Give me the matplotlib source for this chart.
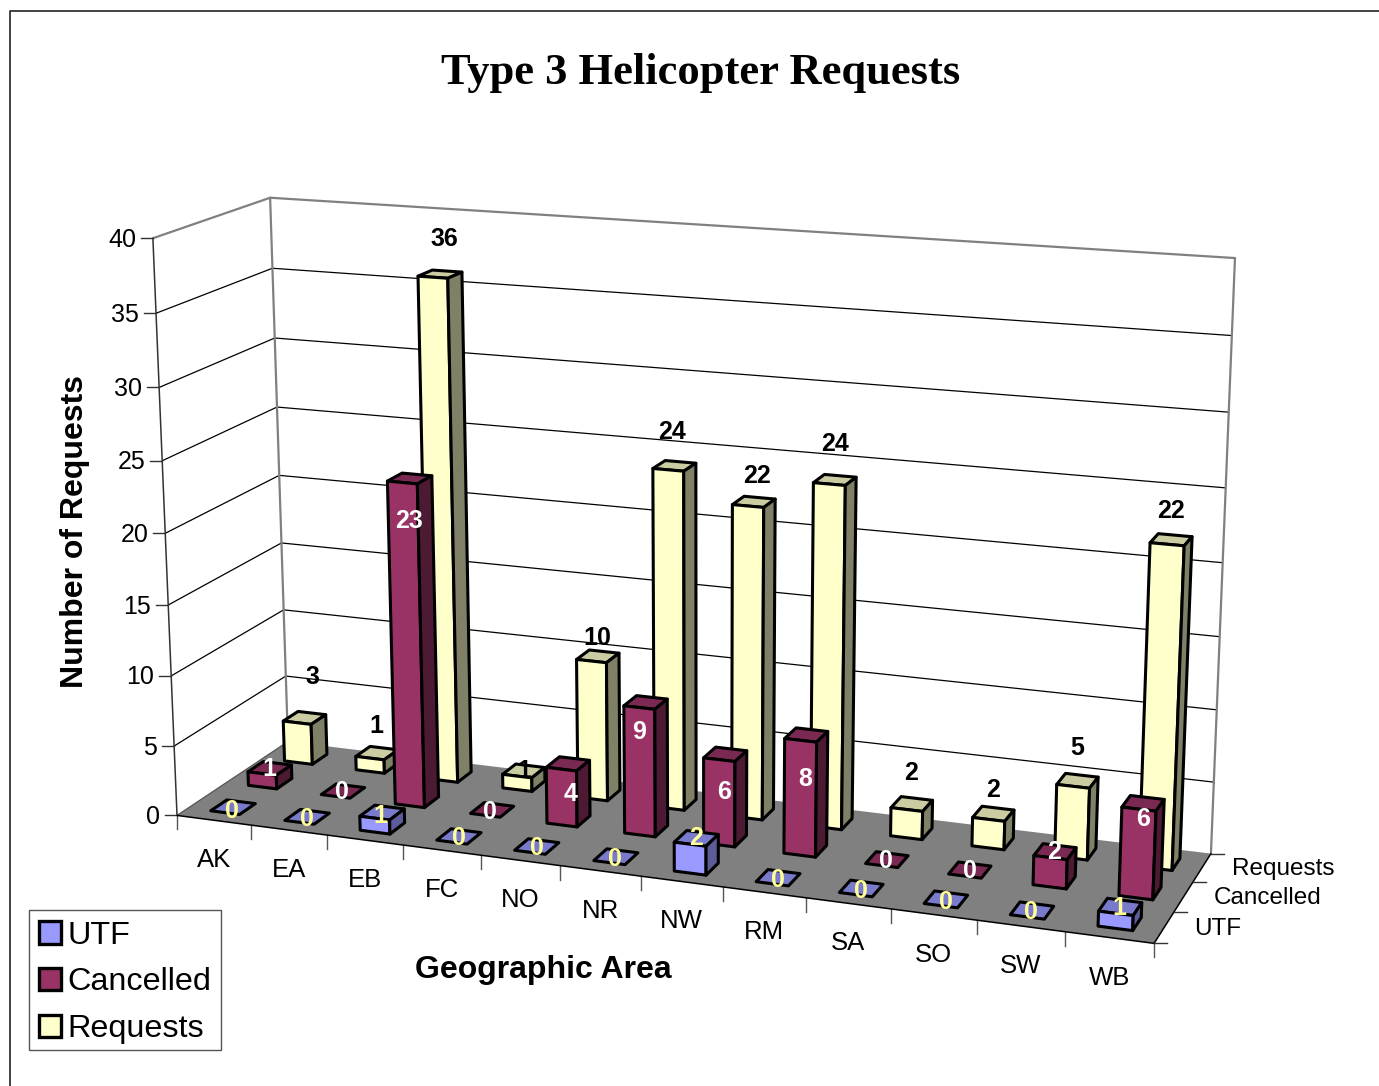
import numpy as np
import matplotlib
matplotlib.use('Agg')
import matplotlib.pyplot as plt
from matplotlib.patches import Polygon, Patch, Rectangle

plt.rcParams['font.family'] = ['Liberation Sans', 'DejaVu Sans']

# data
areas = ['AK', 'EA', 'EB', 'FC', 'NO', 'NR', 'NW', 'RM', 'SA', 'SO', 'SW', 'WB']
series_names = ['UTF', 'Cancelled', 'Requests']
utf = [0, 0, 1, 0, 0, 0, 2, 0, 0, 0, 0, 1]
cancelled = [1, 0, 23, 0, 4, 9, 6, 8, 0, 0, 2, 6]
requests = [3, 1, 36, 1, 10, 24, 22, 24, 2, 2, 5, 22]
value_ticks = [0, 5, 10, 15, 20, 25, 30, 35, 40]

# face colours front, top, side
colors = {'UTF': ('#9999FF', '#7A7ACC', '#5C5C99'),
          'Cancelled': ('#993366', '#7A2952', '#4D1A33'),
          'Requests': ('#FFFFCC', '#CCCCA3', '#808066')}
label_colors = {'UTF': '#FFFF99', 'Cancelled': 'white', 'Requests': 'black'}

# data label nudges in pixels from the middle of the front top edge
nudge = {'UTF': [(7, -2), (7, -3), (6, -2), (7, -4), (7, -4), (6, -4),
                 (6, -6), (6, -4), (5, -4), (5, -4), (4, -5), (4, -5)],
         'Cancelled': [(7, -5), (6, -4), (7, 39), (5, -3), (9, 25), (0, 24),
                       (5, 32), (5, 39), (4, -5), (5, -5), (4, -6), (4, 10)],
         'Requests': [(15, -46), (6, -32), (11, -38), (7, -5), (6, -23), (4, -38),
                      (9, -30), (6, -40), (4, -37), (4, -29), (4, -38), (4, -33)]}

bar_w = 0.39
bar_d = 0.42

# camera: box corners (category, series, value) -> picture pixels
world = [(0, 0, 0), (0, 3, 0), (12, 0, 0), (12, 3, 0), (0, 0, 40), (0, 3, 40), (12, 3, 40)]
image = [(177, 816), (288, 741), (1154, 943), (1211, 854), (153, 238), (270, 198), (1235, 258)]


def solve_camera(world, image):
    rows = []
    for (x, s, v), (u, w) in zip(world, image):
        rows.append([x, s, v, 1, 0, 0, 0, 0, -u*x, -u*s, -u*v, -u])
        rows.append([0, 0, 0, 0, x, s, v, 1, -w*x, -w*s, -w*v, -w])
    return np.linalg.svd(np.array(rows, dtype=float))[2][-1].reshape(3, 4)


cam = solve_camera(world, image)


def proj(x, s, v):
    p = cam @ np.array([x, s, v, 1.0])
    return p[0]/p[2], p[1]/p[2]


fig = plt.figure(figsize=(13.79, 10.86), dpi=100)
ax = fig.add_axes([0, 0, 1, 1])
ax.set_xlim(0, 1379)
ax.set_ylim(1086, 0)
ax.axis('off')

# outer frame of the chart area
ax.plot([10, 10, 1379], [1086, 11, 11], color='#222222', lw=1.2, zorder=1)


def seg(a, b, **kw):
    ax.plot(*zip(proj(*a), proj(*b)), solid_capstyle='round', **kw)


# floor
ax.add_patch(Polygon([proj(0, 0, 0), proj(12, 0, 0), proj(12, 3, 0), proj(0, 3, 0)],
                     facecolor='#808080', edgecolor='none', zorder=2))

# gridlines on the walls
for v in value_ticks[1:-1]:
    seg((0, 0, v), (0, 3, v), color='black', lw=0.9, zorder=2)
    seg((0, 3, v), (12, 3, v), color='black', lw=0.9, zorder=2)
seg((0, 0, 0), (0, 3, 0), color='#555555', lw=0.9, zorder=2)

# wall outlines
for a, b in [((0, 0, 40), (0, 3, 40)), ((0, 3, 40), (12, 3, 40)),
             ((0, 3, 0), (0, 3, 40)), ((12, 3, 0), (12, 3, 40))]:
    seg(a, b, color='#808080', lw=1.6, zorder=2)
seg((0, 0, 0), (0, 0, 40), color='#333333', lw=1.1, zorder=2)
seg((0, 0, 0), (12, 0, 0), color='black', lw=1.1, zorder=3)
seg((12, 0, 0), (12, 3, 0), color='black', lw=1.1, zorder=3)

# ticks and tick labels
for v in value_ticks:
    px, py = proj(0, 0, v)
    ax.plot([px - 12, px], [py, py], color='#333333', lw=1, zorder=2)
    ax.text(px - 17, py + 1.5, str(v), ha='right', va='center', fontsize=18, color='black')
for i in range(13):
    px, py = proj(i, 0, 0)
    ax.plot([px, px], [py, py + 14], color='#555555', lw=1, zorder=2)
for i, name in enumerate(areas):
    px, py = proj(i + 0.5, 0, 0)
    ax.text(px, py + 40, name, ha='center', va='center', fontsize=18.5, color='black')
for k in range(4):
    px, py = proj(12, k, 0)
    ax.plot([px, px + 13], [py, py], color='#333333', lw=1, zorder=3)
for k, name in enumerate(series_names):
    px, py = proj(12, k + 0.5, 0)
    ax.text(px + 30, py + 1, name, ha='left', va='center', fontsize=17.5, color='black')

# bars, back row first so the front rows cover them
rows = {'UTF': utf, 'Cancelled': cancelled, 'Requests': requests}
z = 10
for k in [2, 1, 0]:
    name = series_names[k]
    front, top, side = colors[name]
    s0 = k + 0.5 - bar_d/2
    s1 = k + 0.5 + bar_d/2
    for i, val in enumerate(rows[name]):
        x0 = i + 0.5 - bar_w/2
        x1 = i + 0.5 + bar_w/2
        style = dict(edgecolor='black', lw=2.2, joinstyle='round', zorder=z)
        ax.add_patch(Polygon([proj(x0, s0, val), proj(x1, s0, val), proj(x1, s1, val), proj(x0, s1, val)],
                             facecolor=top, **style))
        if val > 0:
            ax.add_patch(Polygon([proj(x0, s0, 0), proj(x1, s0, 0), proj(x1, s0, val), proj(x0, s0, val)],
                                 facecolor=front, **style))
            ax.add_patch(Polygon([proj(x1, s0, 0), proj(x1, s1, 0), proj(x1, s1, val), proj(x1, s0, val)],
                                 facecolor=side, **style))
        z += 1

# data labels
for k, name in enumerate(series_names):
    for i, val in enumerate(rows[name]):
        px, py = proj(i + 0.5, k + 0.5 - bar_d/2, val)
        dx, dy = nudge[name][i]
        ax.text(px + dx, py + dy, str(val), ha='center', va='center', fontsize=18,
                fontweight='bold', color=label_colors[name], zorder=200)

# titles
ax.text(700.5, 73, 'Type 3 Helicopter Requests', ha='center', va='center', fontsize=32,
        fontweight='bold', family='Liberation Serif', color='black')
ax.text(543, 970, 'Geographic Area', ha='center', va='center', fontsize=23, fontweight='bold')
ax.text(75, 532, 'Number of Requests', ha='center', va='center', rotation=90, fontsize=23, fontweight='bold')

# legend, its box drawn apart so the rows can sit a little low in it
ax.add_patch(Rectangle((29, 910), 192, 140, facecolor='white', edgecolor='#555555', lw=1, zorder=5))
handles = [Patch(facecolor=colors[n][0], edgecolor='black', lw=2.4, label=n) for n in series_names]
ax.legend(handles=handles, loc='lower left', bbox_to_anchor=(29, 1054), bbox_transform=ax.transData,
          fontsize=23.3, frameon=False, borderaxespad=0, borderpad=0.3, handlelength=0.7,
          handleheight=0.7, handletextpad=0.2, labelspacing=0.52).set_zorder(6)

fig.savefig('out.png', dpi=100)
